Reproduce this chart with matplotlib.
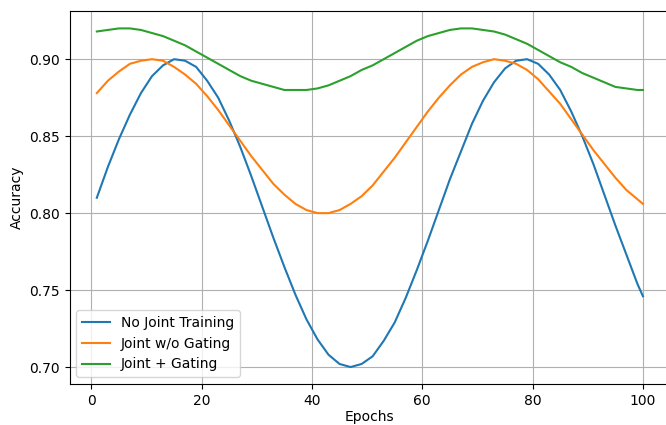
import matplotlib
matplotlib.use("Agg")
import matplotlib.pyplot as plt

epochs = [1, 3, 5, 7, 9, 11, 13, 15, 17, 19, 21, 23, 25, 27, 29, 31, 33, 35,
          37, 39, 41, 43, 45, 47, 49, 51, 53, 55, 57, 59, 61, 63, 65, 67, 69,
          71, 73, 75, 77, 79, 81, 83, 85, 87, 89, 91, 93, 95, 97, 99, 100]

no_joint = [0.810, 0.830, 0.848, 0.864, 0.878, 0.889, 0.896, 0.900, 0.899, 0.895,
            0.886, 0.875, 0.860, 0.843, 0.824, 0.804, 0.784, 0.765, 0.747, 0.731,
            0.718, 0.708, 0.702, 0.700, 0.702, 0.707, 0.717, 0.729, 0.745, 0.763,
            0.782, 0.802, 0.822, 0.840, 0.858, 0.873, 0.885, 0.894, 0.899, 0.900,
            0.897, 0.890, 0.880, 0.866, 0.850, 0.832, 0.812, 0.792, 0.773, 0.754,
            0.746]

joint_no_gating = [0.878, 0.886, 0.892, 0.897, 0.899, 0.900, 0.899, 0.895, 0.890, 0.884,
                   0.876, 0.867, 0.857, 0.847, 0.837, 0.828, 0.819, 0.812, 0.806, 0.802,
                   0.800, 0.800, 0.802, 0.806, 0.811, 0.818, 0.827, 0.836, 0.846, 0.856,
                   0.866, 0.875, 0.883, 0.890, 0.895, 0.898, 0.900, 0.899, 0.897, 0.893,
                   0.887, 0.879, 0.871, 0.861, 0.851, 0.841, 0.832, 0.823, 0.815, 0.809,
                   0.806]

joint_gating = [0.918, 0.919, 0.920, 0.920, 0.919, 0.917, 0.915, 0.912, 0.909, 0.905,
                0.901, 0.897, 0.893, 0.889, 0.886, 0.884, 0.882, 0.880, 0.880, 0.880,
                0.881, 0.883, 0.886, 0.889, 0.893, 0.896, 0.900, 0.904, 0.908, 0.912,
                0.915, 0.917, 0.919, 0.920, 0.920, 0.919, 0.918, 0.916, 0.913, 0.910,
                0.906, 0.902, 0.898, 0.895, 0.891, 0.888, 0.885, 0.882, 0.881, 0.880,
                0.880]

fig = plt.figure(figsize=(6.66, 4.25), dpi=100)
ax = fig.add_axes([0.1044, 0.0965, 0.902, 0.8765])

ax.plot(epochs, no_joint, label="No Joint Training")
ax.plot(epochs, joint_no_gating, label="Joint w/o Gating")
ax.plot(epochs, joint_gating, label="Joint + Gating")

ax.set_xlabel("Epochs", labelpad=2)
ax.set_ylabel("Accuracy")
ax.grid(True)
ax.legend(loc="lower left")

fig.savefig("out.png", dpi=100)
